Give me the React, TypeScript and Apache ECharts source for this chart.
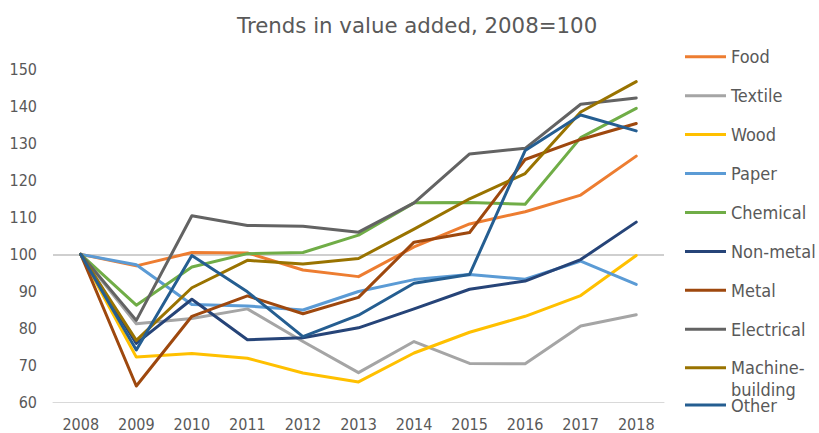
import React, { useEffect, useRef } from "react";
import * as echarts from "echarts";

// Value added index by industry, 2008 = 100
const years = ["2008", "2009", "2010", "2011", "2012", "2013", "2014", "2015", "2016", "2017", "2018"];

const food = [100, 96.9, 100.5, 100.4, 95.8, 94, 102, 108.2, 111.5, 116, 126.5];
const textile = [100, 81.3, 82.7, 85.3, 76.5, 68.1, 76.5, 70.6, 70.5, 80.7, 83.7];
const wood = [100, 72.3, 73.3, 72, 68, 65.6, 73.4, 79, 83.3, 88.9, 99.7];
const paper = [100, 97.2, 86.5, 86.1, 85, 90, 93.2, 94.6, 93.3, 98.2, 91.9];
const chemical = [100, 86.3, 96.6, 100.2, 100.5, 105.2, 113.9, 114, 113.5, 131.5, 139.4];
const nonMetal = [100, 76, 87.9, 77, 77.5, 80.2, 85.3, 90.6, 92.8, 98.6, 108.7];
const metal = [100, 64.5, 83.3, 88.8, 84, 88.4, 103.3, 105.9, 125.6, 131, 135.3];
const electrical = [100, 82.2, 110.4, 107.8, 107.6, 106, 113.9, 127.1, 128.6, 140.5, 142.2];
const machineBuilding = [100, 76.8, 91, 98.4, 97.4, 98.9, 106.8, 115, 121.8, 138.4, 146.6];
const other = [100, 74.2, 99.7, 89.9, 77.8, 83.6, 92.2, 94.6, 128, 137.6, 133.3];

const seriesNames = [
  "Food", "Textile", "Wood", "Paper", "Chemical",
  "Non-metal", "Metal", "Electrical", "Machine-building", "Other",
];
const seriesValues = [food, textile, wood, paper, chemical, nonMetal, metal, electrical, machineBuilding, other];
const seriesColors = [
  "#ED7D31", "#A5A5A5", "#FFC000", "#5B9BD5", "#70AD47",
  "#264478", "#9E480E", "#636363", "#997300", "#255E91",
];

const baseline = 100;

const TEXT_COLOR = "#595959";
const LABEL_FONT = "'DejaVu Sans Condensed', 'DejaVu Sans', sans-serif";
const TITLE_FONT = "'DejaVu Sans', sans-serif";

export default function App() {
  const ref = useRef<HTMLDivElement>(null);

  useEffect(() => {
    if (!ref.current) return;
    const chart = echarts.init(ref.current, null, { renderer: "svg" });

    const series = seriesNames.map((name, i) => ({
      name,
      type: "line",
      data: seriesValues[i],
      symbol: "none",
      color: seriesColors[i],
      lineStyle: { color: seriesColors[i], width: 3, join: "round", cap: "round" },
      z: 2,
      ...(i === 0
        ? {
            markLine: {
              silent: true,
              z: 1,
              symbol: ["none", "none"],
              label: { show: false },
              lineStyle: { color: "#bfbfbf", width: 1.5, type: "solid" },
              data: [{ yAxis: baseline }],
            },
          }
        : {}),
    }));

    const legendText = { color: TEXT_COLOR, fontFamily: LABEL_FONT, fontSize: 18, lineHeight: 20 };
    const legendBase = {
      orient: "vertical",
      left: 685,
      padding: 0,
      icon: "rect",
      itemWidth: 41,
      itemHeight: 3,
      itemGap: 18.94,
      textStyle: legendText,
    };

    chart.setOption({
      animation: false,
      title: {
        text: "Trends in value added, 2008=100",
        left: 237,
        top: 14.5,
        padding: 0,
        textStyle: { color: TEXT_COLOR, fontFamily: TITLE_FONT, fontSize: 21.3, fontWeight: "normal" },
      },
      legend: [
        { ...legendBase, top: 46.7, data: seriesNames.slice(0, 8) },
        {
          // two-line entry: a blank leading line keeps "Machine-" level with its swatch
          ...legendBase,
          top: 334.7,
          data: ["Machine-building"],
          formatter: () => "{gap| }\n{t|Machine-}\n{t|building}",
          textStyle: {
            ...legendText,
            rich: {
              gap: { fontSize: 18, lineHeight: 22, fontFamily: LABEL_FONT },
              t: { fontSize: 18, lineHeight: 22, fontFamily: LABEL_FONT, color: TEXT_COLOR },
            },
          },
        },
        { ...legendBase, top: 395, data: ["Other"] },
      ],
      grid: { left: 53, right: 155, top: 69, bottom: 30.3 },
      xAxis: {
        type: "category",
        data: years,
        boundaryGap: true,
        axisLine: { lineStyle: { color: "#d9d9d9", width: 1 } },
        axisTick: { show: false },
        axisLabel: { color: TEXT_COLOR, fontFamily: LABEL_FONT, fontSize: 16, margin: 14 },
      },
      yAxis: {
        type: "value",
        min: 60,
        max: 150,
        interval: 10,
        axisLine: { show: false },
        axisTick: { show: false },
        splitLine: { show: false },
        axisLabel: { color: TEXT_COLOR, fontFamily: LABEL_FONT, fontSize: 16, margin: 16 },
      },
      series,
    });

    return () => chart.dispose();
  }, []);

  return (
    <div
      ref={ref}
      style={{ position: "fixed", left: 0, top: 0, width: 819, height: 433, background: "#fff" }}
    />
  );
}
